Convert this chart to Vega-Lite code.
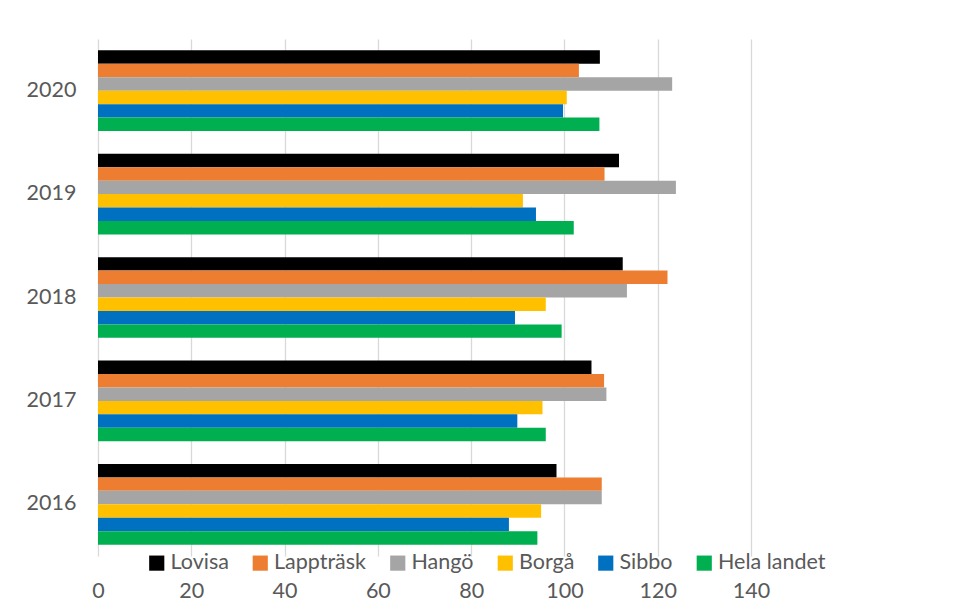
{
  "$schema": "https://vega.github.io/schema/vega-lite/v6.json",
  "autosize": {"type": "none"},
  "padding": {"left": 98, "top": 39, "right": 206, "bottom": 57},
  "width": 653,
  "height": 517,
  "background": "white",
  "data": {
    "values": [
      {"year": "2020", "series": "Lovisa", "value": 107.6},
      {"year": "2020", "series": "Lappträsk", "value": 103.1},
      {"year": "2020", "series": "Hangö", "value": 123.1},
      {"year": "2020", "series": "Borgå", "value": 100.5},
      {"year": "2020", "series": "Sibbo", "value": 99.7},
      {"year": "2020", "series": "Hela landet", "value": 107.5},
      {"year": "2019", "series": "Lovisa", "value": 111.7},
      {"year": "2019", "series": "Lappträsk", "value": 108.6},
      {"year": "2019", "series": "Hangö", "value": 123.9},
      {"year": "2019", "series": "Borgå", "value": 91.1},
      {"year": "2019", "series": "Sibbo", "value": 93.9},
      {"year": "2019", "series": "Hela landet", "value": 102.0},
      {"year": "2018", "series": "Lovisa", "value": 112.5},
      {"year": "2018", "series": "Lappträsk", "value": 122.1},
      {"year": "2018", "series": "Hangö", "value": 113.4},
      {"year": "2018", "series": "Borgå", "value": 96.0},
      {"year": "2018", "series": "Sibbo", "value": 89.4},
      {"year": "2018", "series": "Hela landet", "value": 99.4},
      {"year": "2017", "series": "Lovisa", "value": 105.8},
      {"year": "2017", "series": "Lappträsk", "value": 108.5},
      {"year": "2017", "series": "Hangö", "value": 109.0},
      {"year": "2017", "series": "Borgå", "value": 95.3},
      {"year": "2017", "series": "Sibbo", "value": 89.9},
      {"year": "2017", "series": "Hela landet", "value": 96.0},
      {"year": "2016", "series": "Lovisa", "value": 98.3},
      {"year": "2016", "series": "Lappträsk", "value": 108.0},
      {"year": "2016", "series": "Hangö", "value": 108.0},
      {"year": "2016", "series": "Borgå", "value": 95.0},
      {"year": "2016", "series": "Sibbo", "value": 88.1},
      {"year": "2016", "series": "Hela landet", "value": 94.2}
    ]
  },
  "mark": {"type": "bar"},
  "encoding": {
    "y": {
      "field": "year",
      "type": "nominal",
      "sort": ["2020", "2019", "2018", "2017", "2016"],
      "scale": {"paddingInner": 0.22, "paddingOuter": 0.11},
      "axis": {
        "title": null,
        "ticks": false,
        "domain": false,
        "labelFont": "Lato",
        "labelFontSize": 21.5,
        "labelColor": "#595959",
        "labelPadding": 22
      }
    },
    "yOffset": {
      "field": "series",
      "type": "nominal",
      "sort": ["Lovisa", "Lappträsk", "Hangö", "Borgå", "Sibbo", "Hela landet"],
      "scale": {"paddingInner": 0, "paddingOuter": 0}
    },
    "x": {
      "field": "value",
      "type": "quantitative",
      "scale": {"domain": [0, 140], "nice": false},
      "axis": {
        "title": null,
        "values": [0, 20, 40, 60, 80, 100, 120, 140],
        "ticks": false,
        "domain": false,
        "grid": true,
        "gridColor": "#d9d9d9",
        "gridWidth": 1.3,
        "labelFlush": false,
        "labelFont": "Lato",
        "labelFontSize": 21.5,
        "labelColor": "#595959",
        "labelPadding": 24
      }
    },
    "color": {
      "field": "series",
      "type": "nominal",
      "sort": ["Lovisa", "Lappträsk", "Hangö", "Borgå", "Sibbo", "Hela landet"],
      "scale": {
        "domain": ["Lovisa", "Lappträsk", "Hangö", "Borgå", "Sibbo", "Hela landet"],
        "range": ["#000000", "#ED7D31", "#A5A5A5", "#FFC000", "#0070C0", "#00B050"]
      },
      "legend": {
        "title": null,
        "orient": "none",
        "direction": "horizontal",
        "columns": 6,
        "legendX": 48,
        "legendY": 513,
        "symbolType": "square",
        "symbolSize": 230,
        "symbolStrokeWidth": 0,
        "labelFont": "Lato",
        "labelFontSize": 21.5,
        "labelColor": "#595959",
        "labelOffset": 3,
        "columnPadding": 20.5
      }
    }
  },
  "config": {
    "view": {"stroke": null}
  }
}
